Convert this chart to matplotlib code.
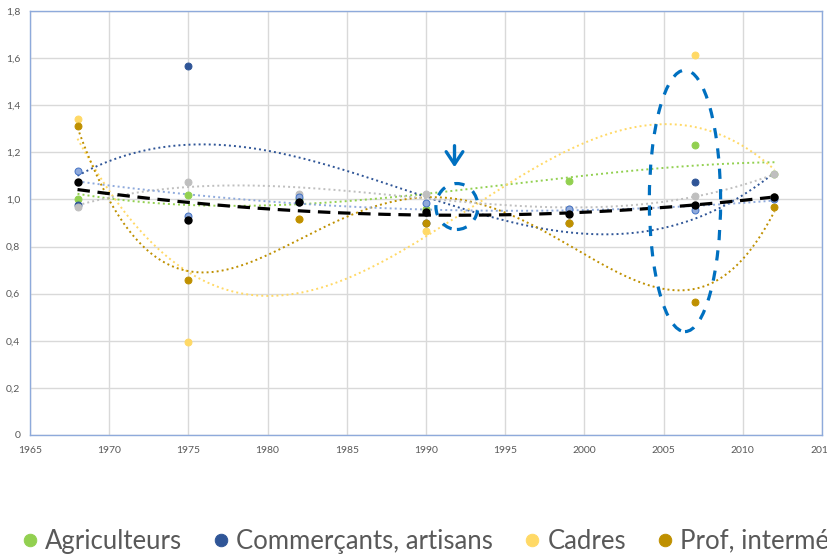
import numpy as np
import matplotlib
matplotlib.use("Agg")
import matplotlib.pyplot as plt
from matplotlib.patches import Ellipse

plt.rcParams['font.family'] = ['Lato', 'DejaVu Sans']

# Census years and relative index per category
years = np.array([1968, 1975, 1982, 1990, 1999, 2007, 2012])
agriculteurs = [1.00, 1.02, 1.00, 0.96, 1.08, 1.23, 1.11]
commercants = [0.975, 1.565, 0.99, 0.90, 0.90, 1.075, 1.01]
cadres = [1.34, 0.395, 0.915, 0.865, 0.90, 1.615, 1.009]
prof_inter = [1.31, 0.66, 0.915, 0.90, 0.90, 0.563, 0.968]
employes = [0.97, 1.073, 1.023, 1.023, 0.958, 1.016, 1.106]
ouvriers = [1.12, 0.931, 1.012, 0.983, 0.958, 0.955, 1.00]
ensemble = [1.075, 0.912, 0.99, 0.945, 0.938, 0.976, 1.009]

# name, values, fill, edge, trendline order
series = [
    ("Agriculteurs", agriculteurs, "#92d050", "#92d050", 3),
    ("Commerçants, artisans", commercants, "#2f5597", "#2f5597", 3),
    ("Cadres", cadres, "#ffd966", "#ffd966", 3),
    ("Prof, intermédiaires", prof_inter, "#bf9000", "#bf9000", 4),
    ("Employés", employes, "#bfbfbf", "#bfbfbf", 3),
    ("Ouvriers", ouvriers, "#8faadc", "#4472c4", 2),
]

fig = plt.figure(figsize=(8.27, 5.58), dpi=100)
ax = fig.add_axes([30 / 827, 1 - 435 / 558, 792 / 827, 424 / 558])

xs = np.linspace(years[0], years[-1], 300)
dotted = (0, (1, 1.6))
handles = []
for name, vals, color, edge, order in series:
    vals = np.array(vals, dtype=float)
    coef = np.polyfit(years, vals, order)
    ax.plot(xs, np.polyval(coef, xs), color=color, lw=1.4, ls=dotted, zorder=2)
    h, = ax.plot(years, vals, "o", ms=5, color=color, mec=edge, mew=0.7,
                 zorder=4, label=name)
    handles.append(h)

ens = np.array(ensemble)
coef = np.polyfit(years, ens, 2)
ax.plot(xs, np.polyval(coef, xs), color="black", lw=2.3, ls=(0, (3.9, 2.4)), zorder=3)
h, = ax.plot(years, ens, "o", ms=5, color="black", zorder=5, label="Ensemble")
handles.append(h)

# Highlight marks
blue = "#0070c0"
for cx, cy, w, hgt in [(1991.95, 0.97, 2.65, 0.195), (2006.35, 0.994, 4.5, 1.11)]:
    ax.add_patch(Ellipse((cx, cy), w, hgt, fill=False, ec=blue, lw=2.3,
                         ls=(0, (3.2, 3.2)), zorder=6))
ax.annotate("", xy=(1991.8, 1.125), xytext=(1991.8, 1.24),
            arrowprops=dict(arrowstyle="->,head_length=0.9,head_width=0.6",
                            color=blue, lw=2.4), zorder=6)

ax.set_xlim(1965, 2015)
ax.set_ylim(0, 1.8)
ax.set_xticks(np.arange(1965, 2016, 5))
ax.set_yticks(np.arange(0, 1.81, 0.2))
ax.set_yticklabels(["0"] + [f"{v:.1f}".replace(".", ",") for v in np.arange(0.2, 1.81, 0.2)])
ax.tick_params(length=0, labelsize=7.5, colors="#595959")
ax.tick_params(axis="x", pad=8)
ax.tick_params(axis="y", pad=7)
ax.grid(color="#d9d9d9", lw=1)
ax.set_axisbelow(True)
for s in ax.spines.values():
    s.set_color("#8eaadb")
    s.set_linewidth(1)

fig.legend(handles=handles, loc="center left", bbox_to_anchor=(0.0285, 0.03),
           ncol=7, frameon=False, fontsize=18.5, markerscale=1.8,
           borderpad=0, borderaxespad=0,
           handlelength=0.5, handletextpad=0.33, columnspacing=1.28,
           labelcolor="#595959")

fig.savefig("out.png", dpi=100)
